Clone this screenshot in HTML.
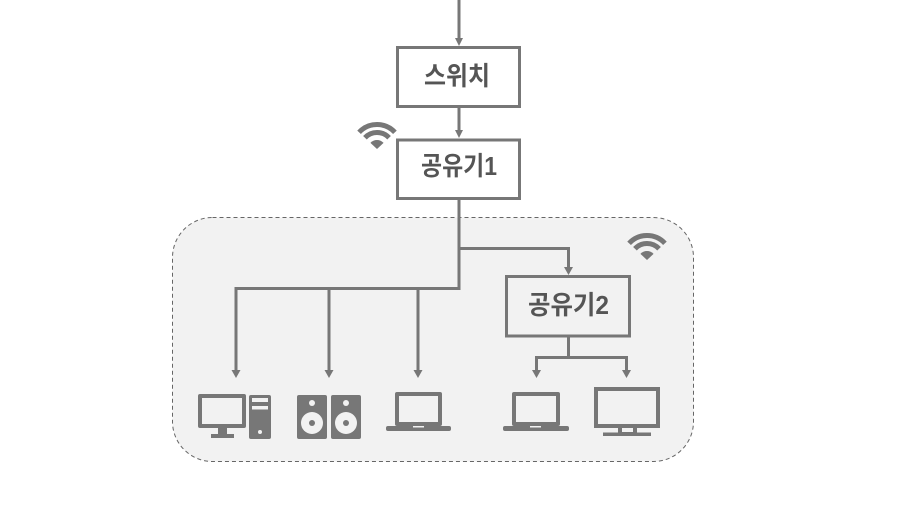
<!DOCTYPE html>
<html>
<head>
<meta charset="utf-8">
<style>
  html,body{margin:0;padding:0;background:#fff;}
  svg{display:block;}
  text{font-family:"Liberation Sans","Noto Sans CJK KR",sans-serif;font-weight:bold;font-size:26px;fill:#555;}
</style>
</head>
<body>
<svg width="913" height="517" viewBox="0 0 913 517" xmlns="http://www.w3.org/2000/svg">
  <!-- container -->
  <rect x="172.5" y="217.5" width="521" height="244" rx="40" ry="40" fill="#f2f2f2" stroke="#666" stroke-width="1" stroke-dasharray="4,3"/>

  <g stroke="#777" stroke-width="3" fill="none">
    <!-- top line into switch -->
    <line x1="459" y1="0" x2="459" y2="39"/>
    <!-- switch -> router1 -->
    <line x1="459" y1="106" x2="459" y2="131"/>
    <!-- router1 down -->
    <polyline points="459,199 459,288.5 236,288.5 236,370"/>
    <line x1="329" y1="288.5" x2="329" y2="370"/>
    <line x1="418" y1="288.5" x2="418" y2="370"/>
    <!-- branch to router2 -->
    <polyline points="459,248.5 568.5,248.5 568.5,268"/>
    <!-- router2 down -->
    <line x1="568.5" y1="336" x2="568.5" y2="357.5"/>
    <polyline points="536.5,370 536.5,357.5 626.5,357.5 626.5,370"/>
    <!-- boxes -->
    <rect x="397.5" y="47.5" width="122" height="59" fill="#fff"/>
    <rect x="397.5" y="140" width="122" height="58.5" fill="#fff"/>
    <rect x="506.5" y="276.5" width="123" height="59.5" fill="#f2f2f2"/>
  </g>

  <!-- arrowheads -->
  <g fill="#777">
    <polygon points="455,38 463,38 459,46"/>
    <polygon points="455,130 463,130 459,138"/>
    <polygon points="564,267 573,267 568.5,275"/>
    <polygon points="231.5,370 240.5,370 236,378"/>
    <polygon points="324.5,370 333.5,370 329,378"/>
    <polygon points="413.5,370 422.5,370 418,378"/>
    <polygon points="532,370 541,370 536.5,378"/>
    <polygon points="622,370 631,370 626.5,378"/>
  </g>

  <!-- labels -->
  <text x="457" y="85" text-anchor="middle" textLength="66" lengthAdjust="spacingAndGlyphs">스위치</text>
  <text x="459" y="175" text-anchor="middle" textLength="76" lengthAdjust="spacingAndGlyphs">공유기1</text>
  <text x="568.5" y="314" text-anchor="middle" textLength="81" lengthAdjust="spacingAndGlyphs">공유기2</text>

  <!-- wifi icons -->
  <g transform="translate(377,149)">
    <path d="M-17.91,-16.71 A24.5 24.5 0 0 1 17.91,-16.71" stroke="#777" stroke-width="5" fill="none"/>
    <path d="M-12.06,-11.25 A16.5 16.5 0 0 1 12.06,-11.25" stroke="#777" stroke-width="5" fill="none"/>
    <path d="M0,0 L-6.58,-6.14 A9 9 0 0 1 6.58,-6.14 Z" fill="#777"/>
  </g>
  <g transform="translate(647,260)">
    <path d="M-17.91,-16.71 A24.5 24.5 0 0 1 17.91,-16.71" stroke="#777" stroke-width="5" fill="none"/>
    <path d="M-12.06,-11.25 A16.5 16.5 0 0 1 12.06,-11.25" stroke="#777" stroke-width="5" fill="none"/>
    <path d="M0,0 L-6.58,-6.14 A9 9 0 0 1 6.58,-6.14 Z" fill="#777"/>
  </g>

  <!-- desktop monitor -->
  <g>
    <rect x="198" y="394" width="48" height="34" rx="2" fill="#777"/>
    <rect x="202" y="398" width="40" height="26" fill="#f2f2f2"/>
    <rect x="218" y="428" width="9" height="6" fill="#777"/>
    <rect x="211" y="434" width="23" height="4" fill="#777"/>
    <!-- tower -->
    <rect x="249" y="395" width="22" height="44" rx="2" fill="#777"/>
    <rect x="252" y="398" width="16" height="4" fill="#f2f2f2"/>
    <rect x="252" y="406" width="16" height="3.5" fill="#f2f2f2"/>
    <circle cx="260" cy="432" r="2" fill="#f2f2f2"/>
  </g>

  <!-- speakers -->
  <g>
    <rect x="297" y="395" width="30" height="44" rx="2" fill="#777"/>
    <circle cx="312" cy="403" r="3" fill="#f2f2f2"/>
    <circle cx="312" cy="423" r="11" fill="#f2f2f2"/>
    <circle cx="312" cy="423" r="3" fill="#777"/>
    <rect x="331" y="395" width="30" height="44" rx="2" fill="#777"/>
    <circle cx="346" cy="403" r="3" fill="#f2f2f2"/>
    <circle cx="346" cy="423" r="11" fill="#f2f2f2"/>
    <circle cx="346" cy="423" r="3" fill="#777"/>
  </g>

  <!-- laptop 1 -->
  <g>
    <rect x="395" y="392" width="47" height="34" rx="2" fill="#777"/>
    <rect x="399" y="396" width="39" height="26" fill="#f2f2f2"/>
    <rect x="386" y="426" width="65" height="5" rx="2" fill="#777"/>
    <rect x="413" y="426" width="11" height="1.5" fill="#f2f2f2"/>
  </g>

  <!-- laptop 2 -->
  <g>
    <rect x="512" y="392" width="48" height="34" rx="2" fill="#777"/>
    <rect x="516" y="396" width="40" height="26" fill="#f2f2f2"/>
    <rect x="503" y="426" width="66" height="5" rx="2" fill="#777"/>
    <rect x="530" y="426" width="11" height="1.5" fill="#f2f2f2"/>
  </g>

  <!-- monitor 2 -->
  <g>
    <rect x="594" y="387" width="66" height="41" fill="#777"/>
    <rect x="598" y="391" width="58" height="33" fill="#f2f2f2"/>
    <rect x="618" y="428" width="19" height="5" fill="#777"/>
    <rect x="622" y="428" width="11" height="4" fill="#f2f2f2"/>
    <rect x="603" y="432.5" width="48" height="3.5" fill="#777"/>
  </g>
</svg>
</body>
</html>
